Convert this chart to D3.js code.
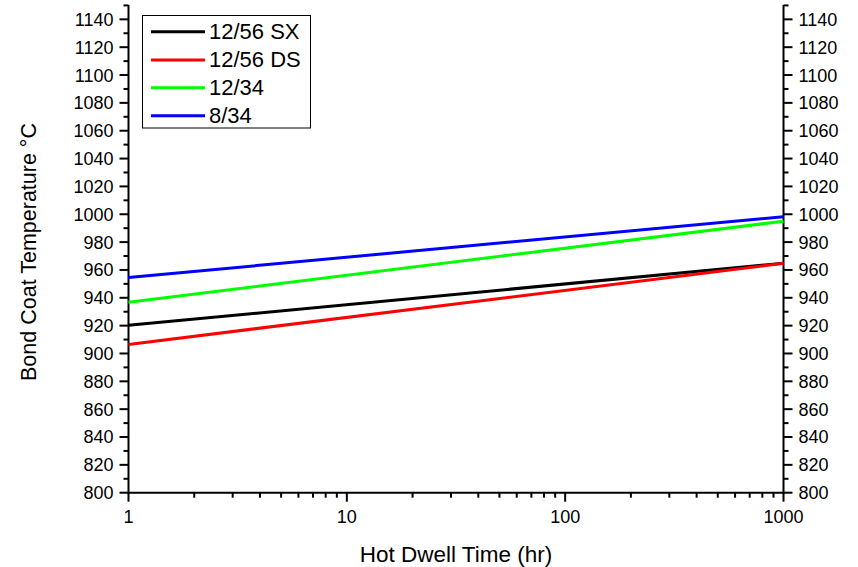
<!DOCTYPE html>
<html>
<head>
<meta charset="utf-8">
<script src="https://cdn.jsdelivr.net/npm/d3@7"></script>
<style>
  html, body { margin: 0; padding: 0; background: #fff; }
  svg { display: block; font-family: Arial, "Liberation Sans", sans-serif; }
</style>
</head>
<body>
<svg id="chart" width="858" height="567"></svg>
<script>
// Bond coat temperature vs hot dwell time (log x), values at 1 h and 1000 h
const seriesNames = ["12/56 SX", "12/56 DS", "12/34", "8/34"];
const seriesColors = ["#000000", "#ff0000", "#00ff00", "#0000ff"];
const dwellHours = [1, 1000];
const tempSX1256 = [920.2, 964.8];
const tempDS1256 = [906.5, 964.8];
const temp1234 = [936.8, 995.0];
const temp834 = [954.6, 998.2];
const seriesValues = [tempSX1256, tempDS1256, temp1234, temp834];
const xTickValues = [1, 10, 100, 1000];
const yTickValues = d3.range(800, 1141, 20);

const svg = d3.select("#chart");
const plotLeft = 128.5, plotRight = 783.5, plotTop = 5, plotBottom = 492.7;

const x = d3.scaleLog().domain([1, 1000]).range([plotLeft, plotRight]);
const y = d3.scaleLinear().domain([800, 1150.3]).range([plotBottom, plotTop]);

// minor tick positions
const xMinor = [];
[1, 10, 100].forEach(dec => { for (let k = 2; k <= 9; k++) xMinor.push(dec * k); });
const yMinor = d3.range(810, 1151, 20);

const tickFont = "18px";
const titleFont = "22px";

// bottom axis
const gx = svg.append("g").attr("transform", `translate(0,${plotBottom})`);
gx.append("line").attr("x1", plotLeft).attr("x2", plotRight).attr("stroke", "#000").attr("stroke-width", 2);
gx.selectAll(".minor").data(xMinor).join("line")
  .attr("x1", d => x(d)).attr("x2", d => x(d)).attr("y1", 0).attr("y2", 5)
  .attr("stroke", "#000").attr("stroke-width", 2);
gx.selectAll(".major").data(xTickValues).join("line")
  .attr("x1", d => x(d)).attr("x2", d => x(d)).attr("y1", 0).attr("y2", 9)
  .attr("stroke", "#000").attr("stroke-width", 2);
gx.selectAll("text").data(xTickValues).join("text")
  .attr("x", d => x(d)).attr("y", 30.5).attr("text-anchor", "middle")
  .attr("font-size", tickFont).attr("fill", "#000").text(d => d);

// left and right axes
function yAxis(xPos, dir) {
  const g = svg.append("g").attr("transform", `translate(${xPos},0)`);
  g.append("line").attr("y1", plotTop).attr("y2", plotBottom + 1).attr("stroke", "#000").attr("stroke-width", 2);
  g.selectAll(".minor").data(yMinor).join("line")
    .attr("y1", d => y(d)).attr("y2", d => y(d)).attr("x1", 0).attr("x2", dir * 5)
    .attr("stroke", "#000").attr("stroke-width", 2);
  g.selectAll(".major").data(yTickValues).join("line")
    .attr("y1", d => y(d)).attr("y2", d => y(d)).attr("x1", 0).attr("x2", dir * 9)
    .attr("stroke", "#000").attr("stroke-width", 2);
  g.selectAll("text").data(yTickValues).join("text")
    .attr("x", dir * 15).attr("y", d => y(d)).attr("dy", "0.36em")
    .attr("text-anchor", dir < 0 ? "end" : "start")
    .attr("font-size", tickFont).attr("fill", "#000").text(d => d);
}
yAxis(plotLeft, -1);
yAxis(plotRight, 1);

// data lines
const line = d3.line().x(d => x(d[0])).y(d => y(d[1]));
seriesValues.forEach((vals, i) => {
  svg.append("path")
    .datum(dwellHours.map((h, j) => [h, vals[j]]))
    .attr("d", line).attr("fill", "none")
    .attr("stroke", seriesColors[i]).attr("stroke-width", 3);
});

// legend
const lg = svg.append("g");
lg.append("rect").attr("x", 142.5).attr("y", 15.5).attr("width", 168).attr("height", 112.5)
  .attr("fill", "#fff").attr("stroke", "#000").attr("stroke-width", 1);
const legendY = [31.7, 60, 87.7, 115.7];
seriesNames.forEach((name, i) => {
  lg.append("line").attr("x1", 151).attr("x2", 205).attr("y1", legendY[i]).attr("y2", legendY[i])
    .attr("stroke", seriesColors[i]).attr("stroke-width", 3);
  lg.append("text").attr("x", 209).attr("y", legendY[i]).attr("dy", "0.34em")
    .attr("font-size", titleFont).attr("fill", "#000").text(name);
});

// axis titles
svg.append("text").attr("x", 456).attr("y", 561.5).attr("text-anchor", "middle")
  .attr("font-size", "22.5px").attr("fill", "#000").text("Hot Dwell Time (hr)");
svg.append("text").attr("transform", "translate(35.5,252) rotate(-90)")
  .attr("text-anchor", "middle").attr("font-size", "21.5px").attr("fill", "#000")
  .text("Bond Coat Temperature °C");
</script>
</body>
</html>
